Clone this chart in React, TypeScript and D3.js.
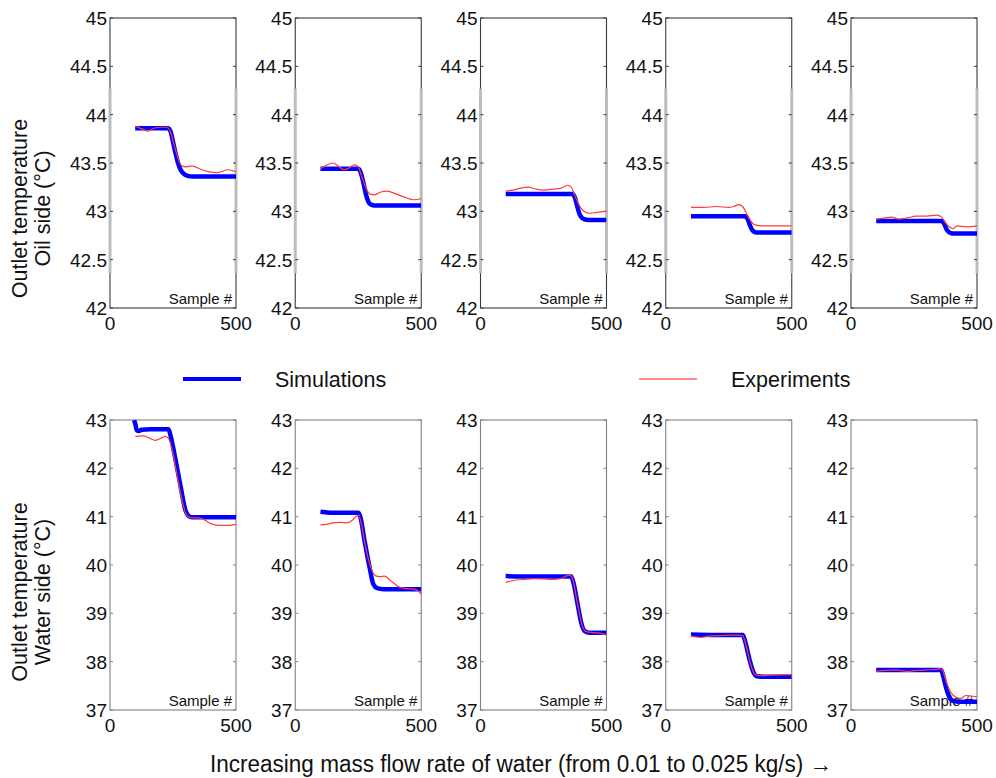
import React from "react";
import * as d3 from "d3";

type Pt = [number, number];

// ---------- DATA ----------
const panelNames = ["P1", "P2", "P3", "P4", "P5"];
const xDomain: [number, number] = [0, 500];
const xTickLabels = ["0", "500"];
const oilTicks = [42, 42.5, 43, 43.5, 44, 44.5, 45];
const waterTicks = [37, 38, 39, 40, 41, 42, 43];

const oilSim1: Pt[] = [[100,43.86],[230,43.86],[240,43.83],[250,43.72],[260,43.6],[270,43.5],[280,43.43],[292,43.39],[305,43.37],[330,43.36],[500,43.36]];
const oilExp1: Pt[] = [[100,43.88],[130,43.85],[150,43.83],[175,43.86],[200,43.87],[225,43.87],[240,43.82],[255,43.68],[270,43.55],[285,43.47],[300,43.46],[325,43.47],[355,43.44],[390,43.41],[425,43.4],[468,43.43],[500,43.41]];
const oilSim2: Pt[] = [[100,43.44],[250,43.44],[260,43.4],[270,43.3],[280,43.18],[290,43.1],[300,43.07],[315,43.06],[500,43.06]];
const oilExp2: Pt[] = [[100,43.44],[125,43.48],[150,43.5],[175,43.46],[195,43.43],[215,43.45],[235,43.48],[250,43.46],[265,43.35],[280,43.25],[295,43.18],[315,43.17],[340,43.2],[365,43.21],[400,43.18],[440,43.14],[470,43.12],[500,43.13]];
const oilSim3: Pt[] = [[100,43.18],[365,43.18],[375,43.14],[385,43.04],[395,42.96],[410,42.92],[430,42.91],[500,42.91]];
const oilExp3: Pt[] = [[100,43.21],[130,43.22],[160,43.24],[190,43.25],[220,43.23],[250,43.22],[290,43.23],[320,43.24],[345,43.27],[360,43.25],[375,43.16],[390,43.07],[410,43.0],[430,42.98],[460,42.99],[500,43.0]];
const oilSim4: Pt[] = [[100,42.95],[315,42.95],[325,42.92],[335,42.85],[345,42.8],[360,42.78],[500,42.78]];
const oilExp4: Pt[] = [[100,43.04],[150,43.04],[200,43.05],[250,43.04],[270,43.05],[290,43.07],[305,43.05],[320,42.98],[335,42.91],[355,42.86],[380,42.85],[440,42.85],[500,42.85]];
const oilSim5: Pt[] = [[100,42.9],[360,42.9],[370,42.87],[380,42.81],[392,42.78],[405,42.77],[500,42.77]];
const oilExp5: Pt[] = [[100,42.92],[130,42.93],[160,42.94],[190,42.92],[220,42.93],[260,42.95],[300,42.95],[340,42.96],[360,42.94],[375,42.88],[390,42.84],[405,42.82],[420,42.85],[460,42.84],[500,42.85]];

const waterSim1: Pt[] = [[95,43.0],[100,42.93],[106,42.79],[114,42.77],[126,42.8],[160,42.81],[200,42.81],[232,42.81],[240,42.68],[260,42.18],[280,41.63],[300,41.12],[311,41.02],[325,40.99],[360,40.99],[500,40.99]];
const waterExp1: Pt[] = [[100,42.66],[131,42.67],[155,42.63],[179,42.58],[205,42.63],[218,42.66],[232,42.62],[250,42.3],[270,41.75],[290,41.25],[305,41.02],[320,40.98],[357,40.97],[380,40.92],[397,40.86],[437,40.82],[470,40.82],[500,40.84]];
const waterSim2: Pt[] = [[100,41.1],[120,41.09],[150,41.08],[250,41.08],[258,41.0],[275,40.5],[295,39.95],[310,39.6],[325,39.52],[350,39.5],[500,39.5]];
const waterExp2: Pt[] = [[100,40.83],[125,40.84],[150,40.87],[180,40.88],[205,40.87],[225,40.92],[240,41.0],[252,41.03],[262,40.85],[280,40.35],[300,39.95],[318,39.78],[335,39.76],[355,39.77],[380,39.67],[410,39.55],[440,39.51],[470,39.5],[490,39.45],[500,39.4]];
const waterSim3: Pt[] = [[100,39.77],[200,39.76],[360,39.76],[368,39.65],[385,39.2],[400,38.8],[412,38.64],[430,38.6],[500,38.6]];
const waterExp3: Pt[] = [[100,39.64],[130,39.68],[170,39.7],[210,39.72],[250,39.71],[290,39.7],[320,39.72],[340,39.77],[355,39.79],[365,39.72],[385,39.2],[405,38.72],[420,38.62],[450,38.6],[480,38.58],[500,38.55]];
const waterSim4: Pt[] = [[100,38.56],[200,38.55],[306,38.55],[315,38.42],[332,38.05],[348,37.78],[362,37.7],[390,37.69],[500,37.69]];
const waterExp4: Pt[] = [[100,38.53],[120,38.51],[140,38.5],[170,38.53],[220,38.54],[280,38.55],[305,38.54],[318,38.35],[335,37.98],[352,37.75],[370,37.71],[420,37.72],[500,37.73]];
const waterSim5: Pt[] = [[100,37.83],[200,37.83],[358,37.83],[366,37.7],[378,37.45],[392,37.25],[405,37.19],[430,37.17],[500,37.17]];
const waterExp5: Pt[] = [[100,37.8],[140,37.82],[180,37.83],[220,37.8],[260,37.82],[300,37.83],[340,37.84],[355,37.86],[365,37.8],[380,37.55],[398,37.35],[415,37.27],[435,37.24],[455,37.3],[475,37.29],[500,37.27]];

const oilSim = [oilSim1, oilSim2, oilSim3, oilSim4, oilSim5];
const oilExp = [oilExp1, oilExp2, oilExp3, oilExp4, oilExp5];
const waterSim = [waterSim1, waterSim2, waterSim3, waterSim4, waterSim5];
const waterExp = [waterExp1, waterExp2, waterExp3, waterExp4, waterExp5];

const legendLabels = ["Simulations", "Experiments"];
const rowTitles = [["Outlet temperature", "Oil side (°C)"], ["Outlet temperature", "Water side (°C)"]];
const xTitle = "Increasing mass flow rate of water (from 0.01 to 0.025 kg/s) \u2192";
const sampleLabel = "Sample #";

// ---------- LAYOUT ----------
const W = 996, H = 778;
const FONT = "'Liberation Sans', Arial, sans-serif";
const panelW = 126;
const panelStep = 185.25;
const firstLeft = 110;
const rows = [
  { top: 18, bottom: 308, domain: [42, 45] as [number, number], ticks: oilTicks, sim: oilSim, exp: oilExp, frame: "#3a3a3a", titleCy: 208.5, band: [44.27, 42.36] },
  { top: 420, bottom: 710, domain: [37, 43] as [number, number], ticks: waterTicks, sim: waterSim, exp: waterExp, frame: "#808080", titleCy: 592, band: null as null | number[] },
];

const BLUE = "#0000ff";
const RED = "#ff3a3a";

function Panel({ i, r }: { i: number; r: number }) {
  const row = rows[r];
  const left = firstLeft + i * panelStep;
  const x = d3.scaleLinear().domain(xDomain).range([left, left + panelW]);
  const y = d3.scaleLinear().domain(row.domain).range([row.bottom, row.top]);
  const line = d3.line<Pt>().x(d => x(d[0])).y(d => y(d[1])).curve(d3.curveMonotoneX);
  const clipId = `clip-${r}-${i}`;
  return (
    <g>
      <defs>
        <clipPath id={clipId}>
          <rect x={left} y={row.top} width={panelW} height={row.bottom - row.top} />
        </clipPath>
      </defs>
      <rect x={left} y={row.top} width={panelW} height={row.bottom - row.top} fill="#fff" stroke={row.frame} strokeWidth={1.1} />
      {row.band && (
        <g fill="#bdbdbd">
          <rect x={left - 1.5} y={y(row.band[0])} width={3} height={y(row.band[1]) - y(row.band[0])} />
          <rect x={left + panelW - 1.5} y={y(row.band[0])} width={3} height={y(row.band[1]) - y(row.band[0])} />
        </g>
      )}
      {row.ticks.map(t => (
        <g key={t}>
          <line x1={left} x2={left + 3} y1={y(t)} y2={y(t)} stroke={row.frame} strokeWidth={1} />
          <line x1={left + panelW - 3} x2={left + panelW} y1={y(t)} y2={y(t)} stroke={row.frame} strokeWidth={1} />
          <text x={left - 3} y={y(t) + 7} textAnchor="end" fontSize={19} fontFamily={FONT} fill="#111">{String(t)}</text>
        </g>
      ))}
      {xTickLabels.map((lab, k) => (
        <text key={lab} x={x(xDomain[k])} y={row.bottom + 22} textAnchor="middle" fontSize={19} fontFamily={FONT} fill="#111">{lab}</text>
      ))}
      <text x={left + panelW - 4} y={row.bottom - 4} textAnchor="end" fontSize={15} fontFamily={FONT} fill="#111">{sampleLabel}</text>
      <g clipPath={`url(#${clipId})`}>
        <path d={line(row.sim[i]) || ""} fill="none" stroke={BLUE} strokeWidth={4.5} strokeLinejoin="round" />
        <path d={line(row.exp[i]) || ""} fill="none" stroke={RED} strokeWidth={1.2} />
      </g>
    </g>
  );
}

export default function App() {
  return (
    <svg width={W} height={H} style={{ position: "absolute", left: 0, top: 0, background: "#fff" }}>
      <rect x={0} y={0} width={W} height={H} fill="#fff" />
      {rows.map((row, r) => (
        <g key={r}>
          {panelNames.map((p, i) => <Panel key={p} i={i} r={r} />)}
          {rowTitles[r].map((t, k) => (
            <text key={k} transform={`translate(${27 + k * 23},${row.titleCy}) rotate(-90)`} textAnchor="middle" fontSize={21.5} fontFamily={FONT} fill="#111">{t}</text>
          ))}
        </g>
      ))}
      {/* legend */}
      <line x1={183} x2={241} y1={379} y2={379} stroke={BLUE} strokeWidth={4} />
      <text x={275} y={387} fontSize={21.5} fontFamily={FONT} fill="#111">{legendLabels[0]}</text>
      <line x1={639} x2={697} y1={379} y2={379} stroke={RED} strokeWidth={1.3} opacity={0.8} />
      <text x={731} y={387} fontSize={21.5} fontFamily={FONT} fill="#111">{legendLabels[1]}</text>
      <text x={210} y={772} fontSize={23} fontFamily={FONT} fill="#111" textLength={622} lengthAdjust="spacingAndGlyphs">{xTitle}</text>
    </svg>
  );
}
